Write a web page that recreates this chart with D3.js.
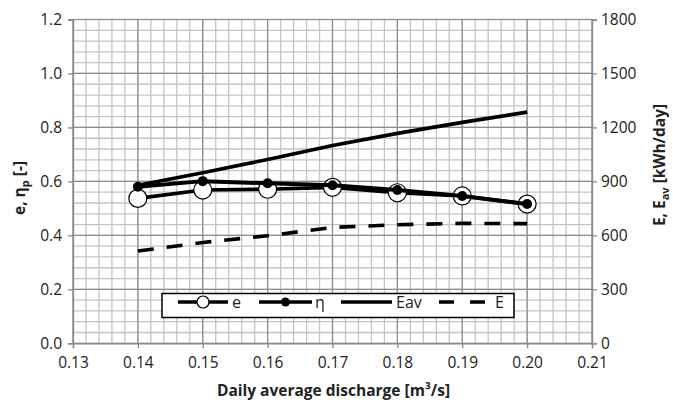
<!DOCTYPE html>
<html>
<head>
<meta charset="utf-8">
<script src="https://cdn.jsdelivr.net/npm/d3@7"></script>
<style>
  body { margin: 0; background: #fff; }
  svg text { font-family: "Open Sans", sans-serif; fill: #222; }
  .axis-title { font-size: 15.5px; font-weight: bold; }
</style>
</head>
<body>
<svg id="chart" width="673" height="402"></svg>
<script>
// Data
const discharge = [0.14, 0.15, 0.16, 0.17, 0.18, 0.19, 0.20];
const eValues   = [0.537, 0.568, 0.571, 0.578, 0.558, 0.546, 0.516];
const etaValues = [0.580, 0.601, 0.593, 0.586, 0.568, 0.546, 0.516];
const eavValues = [879, 948, 1022, 1100, 1167, 1228, 1285];
const eValuesKwh = [513, 560, 598, 644, 659, 667, 665];

const xTicks = [0.13, 0.14, 0.15, 0.16, 0.17, 0.18, 0.19, 0.20, 0.21];
const yLeftTicks = [0, 0.2, 0.4, 0.6, 0.8, 1.0, 1.2];
const yRightTicks = [0, 300, 600, 900, 1200, 1500, 1800];

const margin = {top: 19.5, right: 81, bottom: 58.7, left: 73};
const W = 673, H = 402;
const width = W - margin.left - margin.right;
const height = H - margin.top - margin.bottom;

const svg = d3.select('#chart');
const chart = svg.append('g')
    .attr('transform', `translate(${margin.left},${margin.top})`);

const xScale = d3.scaleLinear().domain([0.13, 0.21]).range([0, width]);
const yLeft = d3.scaleLinear().domain([0, 1.2]).range([height, 0]);
const yRight = d3.scaleLinear().domain([0, 1800]).range([height, 0]);

// Minor grid
const minorX = d3.range(0, 41).map(i => 0.13 + i * 0.002);
const minorY = d3.range(0, 31).map(i => i * 0.04);
chart.append('g').selectAll('line').data(minorX).join('line')
    .attr('x1', d => xScale(d)).attr('x2', d => xScale(d))
    .attr('y1', 0).attr('y2', height)
    .attr('stroke', '#c4c4c4').attr('stroke-width', 1.3);
chart.append('g').selectAll('line').data(minorY).join('line')
    .attr('y1', d => yLeft(d)).attr('y2', d => yLeft(d))
    .attr('x1', 0).attr('x2', width)
    .attr('stroke', '#c4c4c4').attr('stroke-width', 1.3);

// Major grid
chart.append('g').selectAll('line').data(xTicks).join('line')
    .attr('x1', d => xScale(d)).attr('x2', d => xScale(d))
    .attr('y1', 0).attr('y2', height)
    .attr('stroke', '#8c8c8c').attr('stroke-width', 1.2);
chart.append('g').selectAll('line').data(yLeftTicks).join('line')
    .attr('y1', d => yLeft(d)).attr('y2', d => yLeft(d))
    .attr('x1', 0).attr('x2', width)
    .attr('stroke', '#8c8c8c').attr('stroke-width', 1.2);

// Axes
const axisColor = '#888';
const xAxisG = chart.append('g')
    .attr('transform', `translate(0,${height})`)
    .call(d3.axisBottom(xScale).tickValues(xTicks).tickFormat(d3.format('.2f')).tickSize(5).tickPadding(9));
const yAxisG = chart.append('g')
    .call(d3.axisLeft(yLeft).tickValues(yLeftTicks).tickFormat(d3.format('.1f')).tickSize(5).tickPadding(6));
const yRightG = chart.append('g')
    .attr('transform', `translate(${width},0)`)
    .call(d3.axisRight(yRight).tickValues(yRightTicks).tickFormat(d3.format('d')).tickSize(5).tickPadding(4));
[xAxisG, yAxisG, yRightG].forEach(g => {
  g.select('.domain').attr('stroke', axisColor).attr('stroke-width', 1.3);
  g.selectAll('.tick line').attr('stroke', axisColor).attr('stroke-width', 1.3);
  g.selectAll('.tick text').attr('fill', '#222')
    .style('font-family', '"Open Sans", sans-serif').style('font-size', '15.5px');
});

// Series
const lineLeft = vals => d3.line()
    .x((d, i) => xScale(discharge[i]))
    .y(d => yLeft(d))(vals);
const lineRight = vals => d3.line()
    .x((d, i) => xScale(discharge[i]))
    .y(d => yRight(d))(vals);

chart.append('path').attr('d', lineRight(eValuesKwh))
    .attr('fill', 'none').attr('stroke', '#000').attr('stroke-width', 3.6)
    .attr('stroke-dasharray', '16,13');
chart.append('path').attr('d', lineRight(eavValues))
    .attr('fill', 'none').attr('stroke', '#000').attr('stroke-width', 3.6);

chart.append('path').attr('d', lineLeft(eValues))
    .attr('fill', 'none').attr('stroke', '#000').attr('stroke-width', 3.6);
chart.append('g').selectAll('circle').data(eValues).join('circle')
    .attr('cx', (d, i) => xScale(discharge[i]))
    .attr('cy', d => yLeft(d))
    .attr('r', 9)
    .attr('fill', '#fff').attr('stroke', '#000').attr('stroke-width', 1.2);

chart.append('path').attr('d', lineLeft(etaValues))
    .attr('fill', 'none').attr('stroke', '#000').attr('stroke-width', 4);
chart.append('g').selectAll('circle').data(etaValues).join('circle')
    .attr('cx', (d, i) => xScale(discharge[i]))
    .attr('cy', d => yLeft(d))
    .attr('r', 5)
    .attr('fill', '#000');

// Legend
const legend = svg.append('g');
legend.append('rect')
    .attr('x', 162).attr('y', 293.5).attr('width', 352).attr('height', 24)
    .attr('fill', '#fff').attr('stroke', '#000').attr('stroke-width', 1.5);
const ly = 302;
const legendItems = [
  {label: 'e', x1: 178, x2: 228, marker: 'open', tx: 232},
  {label: 'η', x1: 259, x2: 312, marker: 'dot', tx: 315},
  {label: 'Eav', x1: 341, x2: 392, marker: null, tx: 396},
  {label: 'E', x1: 439, x2: 486, marker: null, dash: true, tx: 495}
];
legendItems.forEach(it => {
  legend.append('line')
      .attr('x1', it.x1).attr('x2', it.x2).attr('y1', ly).attr('y2', ly)
      .attr('stroke', '#000').attr('stroke-width', 3.6)
      .attr('stroke-dasharray', it.dash ? '15,16' : null);
  const mx = (it.x1 + it.x2) / 2;
  if (it.marker === 'open') {
    legend.append('circle').attr('cx', mx).attr('cy', ly).attr('r', 6)
        .attr('fill', '#fff').attr('stroke', '#000').attr('stroke-width', 1.2);
  } else if (it.marker === 'dot') {
    legend.append('circle').attr('cx', mx).attr('cy', ly).attr('r', 4.5).attr('fill', '#000');
  }
  legend.append('text')
      .attr('x', it.tx).attr('y', ly + 6)
      .style('font-size', '16px')
      .text(it.label);
});

// Axis titles
svg.append('text').attr('class', 'axis-title')
    .attr('x', margin.left + width / 2 + 1).attr('y', 396)
    .attr('text-anchor', 'middle')
    .text('Daily average discharge [m³/s]');

const leftTitle = svg.append('text').attr('class', 'axis-title')
    .attr('transform', 'translate(25,188) rotate(-90)')
    .attr('text-anchor', 'middle');
leftTitle.append('tspan').text('e, η');
leftTitle.append('tspan').attr('dy', 4).style('font-size', '11px').text('p');
leftTitle.append('tspan').attr('dy', -4).text(' [-]');

const rightTitle = svg.append('text').attr('class', 'axis-title')
    .attr('transform', 'translate(665,165) rotate(-90)')
    .attr('text-anchor', 'middle');
rightTitle.append('tspan').text('E, E');
rightTitle.append('tspan').attr('dy', 4).style('font-size', '11px').text('av');
rightTitle.append('tspan').attr('dy', -4).text(' [kWh/day]');
</script>
</body>
</html>
